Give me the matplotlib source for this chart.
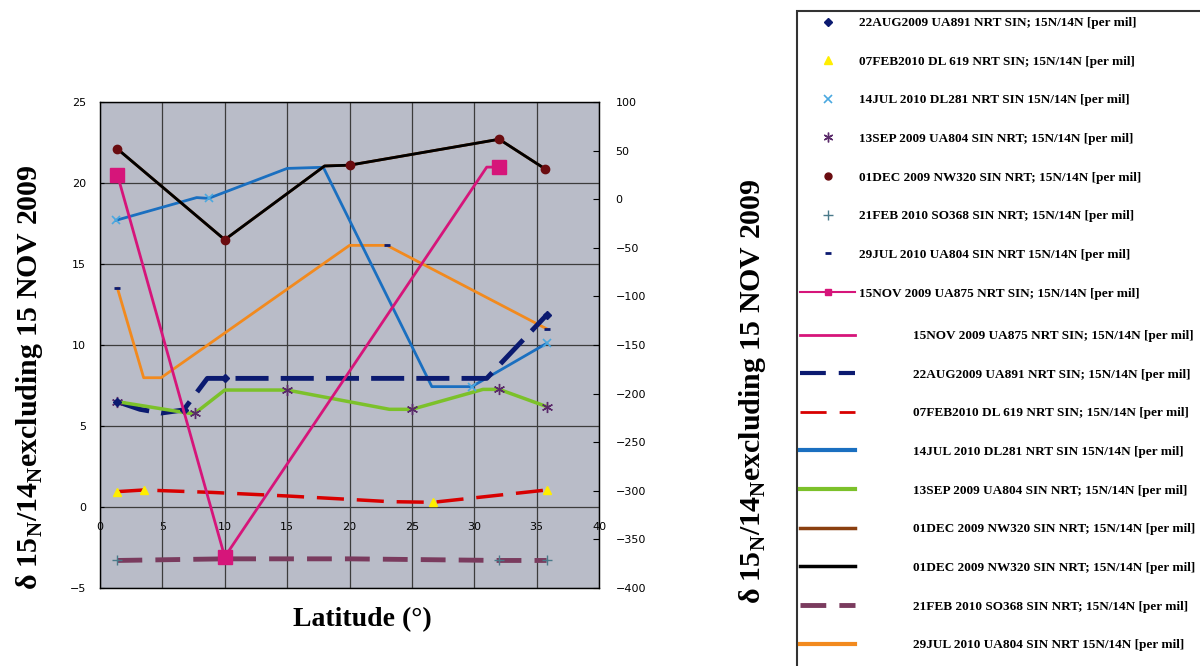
import numpy as np
import matplotlib
matplotlib.use('Agg')
import matplotlib.pyplot as plt
from matplotlib.lines import Line2D
from matplotlib.patches import Rectangle

# --- data (left axis unless noted) ---
black_x = [1.4, 10, 18, 20, 32, 35.7]
black_y = [22.1, 16.5, 21.05, 21.1, 22.7, 20.86]
blue_x = [1.3, 7.75, 8.7, 15, 17.9, 26.6, 29.8, 35.8]
blue_y = [17.7, 19.1, 19.05, 20.9, 20.97, 7.43, 7.43, 10.1]
orange_x = [1.4, 3.5, 4.9, 20, 23, 35.8]
orange_y = [13.5, 7.98, 7.98, 16.15, 16.15, 11.0]
navy_x = [1.4, 3.2, 4.9, 6.7, 8.6, 10, 31, 35.8]
navy_y = [6.5, 6.03, 5.8, 5.99, 7.94, 7.94, 7.94, 11.85]
green_x = [1.4, 7.2, 7.6, 10, 15, 23.2, 25, 30.7, 32, 35.8]
green_y = [6.5, 5.78, 5.78, 7.22, 7.22, 6.03, 6.03, 7.26, 7.26, 6.2]
red_x = [1.4, 3.5, 9, 15, 20, 23.2, 26.7, 35.8]
red_y = [0.95, 1.05, 0.9, 0.68, 0.47, 0.33, 0.29, 1.05]
purple_x = [1.4, 10, 20, 32, 35.8]
purple_y = [-3.3, -3.2, -3.2, -3.3, -3.3]
# 15NOV 2009 on the right axis
mag_x = [1.4, 10, 31, 32]
mag_y = [25, -368, 33, 33]
mag_mx = [1.4, 10, 32]
mag_my = [25, -368, 33]

# marker-only series
dia_x = [1.4, 6.7, 10, 35.8]
dia_y = [6.5, 5.99, 7.94, 11.85]
tri_x = [1.4, 3.5, 26.7, 35.8]
tri_y = [0.95, 1.05, 0.29, 1.05]
xm_x = [1.3, 8.7, 29.8, 35.8]
xm_y = [17.7, 19.05, 7.43, 10.1]
ast_x = [1.4, 7.6, 15, 25, 32, 35.8]
ast_y = [6.5, 5.78, 7.22, 6.03, 7.26, 6.2]
circ_x = [1.4, 10, 20, 32, 35.7]
circ_y = [22.1, 16.5, 21.1, 22.7, 20.86]
plus_x = [1.4, 10, 32, 35.8]
plus_y = [-3.3, -3.2, -3.3, -3.3]
dash_x = [1.4, 23, 35.8]
dash_y = [13.5, 16.15, 11.0]

x_ticks = [0, 5, 10, 15, 20, 25, 30, 35, 40]
left_ticks = [-5, 0, 5, 10, 15, 20, 25]
right_ticks = list(range(-400, 101, 50))

marker_labels = [
    '22AUG2009 UA891 NRT SIN; 15N/14N [per mil]',
    '07FEB2010 DL 619 NRT SIN; 15N/14N [per mil]',
    '14JUL 2010 DL281 NRT SIN 15N/14N [per mil]',
    '13SEP 2009 UA804 SIN NRT; 15N/14N [per mil]',
    '01DEC 2009 NW320 SIN NRT; 15N/14N [per mil]',
    '21FEB 2010 SO368 SIN NRT; 15N/14N [per mil]',
    '29JUL 2010 UA804 SIN NRT 15N/14N [per mil]',
    '15NOV 2009 UA875 NRT SIN; 15N/14N [per mil]',
]
line_labels = [
    '15NOV 2009 UA875 NRT SIN; 15N/14N [per mil]',
    '22AUG2009 UA891 NRT SIN; 15N/14N [per mil]',
    '07FEB2010 DL 619 NRT SIN; 15N/14N [per mil]',
    '14JUL 2010 DL281 NRT SIN 15N/14N [per mil]',
    '13SEP 2009 UA804 SIN NRT; 15N/14N [per mil]',
    '01DEC 2009 NW320 SIN NRT; 15N/14N [per mil]',
    '01DEC 2009 NW320 SIN NRT; 15N/14N [per mil]',
    '21FEB 2010 SO368 SIN NRT; 15N/14N [per mil]',
    '29JUL 2010 UA804 SIN NRT 15N/14N [per mil]',
]

c_mag = '#d6157a'
c_navy = '#0b1a70'
c_red = '#d80000'
c_blue = '#1a6fc0'
c_green = '#7cc12a'
c_brown = '#8a3f10'
c_purple = '#7a3b5e'
c_orange = '#f28a1e'

fig = plt.figure(figsize=(12, 6.66), dpi=100)
ax = fig.add_axes([100/1200, 78/666, 499/1200, 486/666])
ax.set_facecolor('#b9bcc8')
ax.set_xlim(0, 40)
ax.set_ylim(-5, 25)
ax.set_xticks(x_ticks)
ax.set_yticks(left_ticks)
ax.grid(True, color='#3c3c3c', lw=0.9)
ax.set_axisbelow(True)
ax.tick_params(axis='x', bottom=False, labelbottom=False)
ax.tick_params(axis='y', labelsize=8, length=3, direction='in', pad=10)
for s in ax.spines.values():
    s.set_color('#222222')
    s.set_linewidth(1.0)

# x axis crosses at y = 0
sec = ax.secondary_xaxis(5/30)
sec.set_xticks(x_ticks)
sec.tick_params(length=0, labelsize=8, pad=11)
sec.spines['bottom'].set_visible(False)

ax2 = ax.twinx()
ax2.set_ylim(-400, 100)
ax2.set_yticks(right_ticks)
ax2.tick_params(axis='y', labelsize=8, length=4, direction='in', pad=12)

# lines
ax.plot(purple_x, purple_y, color=c_purple, lw=3.5, dashes=(5.1, 2.7))
ax.plot(red_x, red_y, color=c_red, lw=2.5, dashes=(7.8, 3.7))
ax.plot(orange_x, orange_y, color=c_orange, lw=2)
ax.plot(blue_x, blue_y, color=c_blue, lw=2)
ax.plot(navy_x, navy_y, color=c_navy, lw=3.5, dashes=(6.8, 2.5))
ax.plot(green_x, green_y, color=c_green, lw=2.5)
ax.plot(black_x, black_y, color=c_brown, lw=2)
ax.plot(black_x, black_y, color='black', lw=2)

# markers
ax.plot(tri_x, tri_y, ls='none', marker='^', color='#ffee00', ms=6)
ax.plot(xm_x, xm_y, ls='none', marker='x', color='#4aa8e0', ms=6, mew=1.2)
ax.plot(ast_x, ast_y, ls='none', marker=(6, 2, 0), color='#5a2a6a', ms=8, mew=1)
ax.plot(circ_x, circ_y, ls='none', marker='o', color='#6a0c10', ms=6)
ax.plot(plus_x, plus_y, ls='none', marker='+', color='#4a7a8a', ms=7, mew=1)
ax.plot(dash_x, dash_y, ls='none', marker='_', color=c_navy, ms=5, mew=2)
ax.plot(dia_x, dia_y, ls='none', marker='D', color=c_navy, ms=4)

ax2.plot(mag_x, mag_y, color=c_mag, lw=2)
ax2.plot(mag_mx, mag_my, ls='none', marker='s', color=c_mag, ms=10)

fig.text(362/1200, 1 - 620/666, 'Latitude (°)', ha='center', va='center',
         family='Liberation Serif', weight='bold', fontsize=20)

ylab = 'δ 15$_{\\mathregular{N}}$/14$_{\\mathregular{N}}$excluding 15 NOV 2009'
fig.text(30/1200, 1 - 377/666, ylab, rotation=90, ha='center', va='center',
         family='Liberation Serif', weight='bold', fontsize=21.5)
fig.text(752/1200, 1 - 391/666, ylab, rotation=90, ha='center', va='center',
         family='Liberation Serif', weight='bold', fontsize=21.5)

# legend
mk_handles = [
    Line2D([], [], ls='none', marker='D', color=c_navy, ms=4),
    Line2D([], [], ls='none', marker='^', color='#ffee00', ms=6),
    Line2D([], [], ls='none', marker='x', color='#4aa8e0', ms=6, mew=1.2),
    Line2D([], [], ls='none', marker=(6, 2, 0), color='#5a2a6a', ms=7, mew=1),
    Line2D([], [], ls='none', marker='o', color='#6a0c10', ms=5),
    Line2D([], [], ls='none', marker='+', color='#4a7a8a', ms=7, mew=1),
    Line2D([], [], ls='none', marker='_', color=c_navy, ms=5, mew=2),
    Line2D([], [], color=c_mag, lw=1.5, marker='s', ms=5),
]
ln_handles = [
    Line2D([], [], color=c_mag, lw=2),
    Line2D([], [], color=c_navy, lw=3, dashes=(6.2, 3.1)),
    Line2D([], [], color=c_red, lw=2, dashes=(9.4, 4.7)),
    Line2D([], [], color=c_blue, lw=3),
    Line2D([], [], color=c_green, lw=3),
    Line2D([], [], color=c_brown, lw=2.5),
    Line2D([], [], color='black', lw=2.5),
    Line2D([], [], color=c_purple, lw=3.5, dashes=(5.3, 2.7)),
    Line2D([], [], color=c_orange, lw=3),
]
fp = dict(family='Liberation Serif', weight='bold', size=9.5)
leg1 = fig.legend(mk_handles, marker_labels, loc='upper left',
                  bbox_to_anchor=(800/1200, 1 - 17/666), frameon=False,
                  borderpad=0, borderaxespad=0, handlelength=4.2,
                  handletextpad=0.3, labelspacing=2.0, prop=fp)
leg2 = fig.legend(ln_handles, line_labels, loc='upper left',
                  bbox_to_anchor=(800/1200, 1 - 330/666), frameon=False,
                  borderpad=0, borderaxespad=0, handlelength=4.2,
                  handletextpad=4.4, labelspacing=2.0, prop=fp)
fig.add_artist(Rectangle((797/1200, -0.1), 0.6, 1.1 - 11/666, transform=fig.transFigure,
                         fill=False, ec='#333333', lw=1.5))

fig.savefig('out.png', dpi=100)
